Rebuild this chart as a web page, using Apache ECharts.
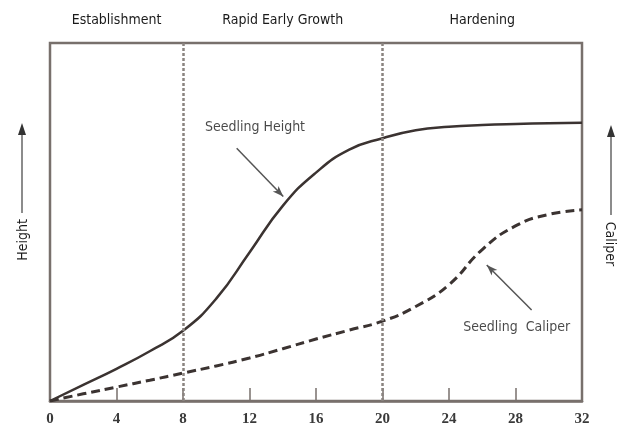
<!DOCTYPE html>
<html>
<head>
<meta charset="utf-8">
<script src="https://cdn.jsdelivr.net/npm/echarts@6/dist/echarts.min.js"></script>
<style>
html,body{margin:0;padding:0;background:#fff;}
#chart{width:618px;height:435px;}
</style>
</head>
<body>
<div id="chart"></div>
<script>
// weeks since sowing (x) and relative size (0-100, no scale shown)
var xTicks = [0, 4, 8, 12, 16, 20, 24, 28, 32];
var weeks = [0, 2, 4, 6, 8, 10, 12, 14, 16, 18, 20, 22, 24, 26, 28, 30, 32];
var heightY = [0, 4.5, 9.0, 13.9, 19.6, 28.6, 41.5, 54.5, 63.8, 70.2, 73.4, 75.6, 76.6, 77.1, 77.4, 77.6, 77.7];
var caliperY = [0, 2, 3.9, 5.8, 7.8, 9.8, 12, 14.6, 17.3, 19.8, 22.3, 26.4, 32.5, 42.3, 48.9, 52.1, 53.4];
var phaseBounds = [8, 20];
var phaseNames = ['Establishment', 'Rapid Early Growth', 'Hardening'];
var phaseCenters = [4, 14, 26];
var heightLabel = {name: 'Seedling Height', x: 12.33, y: 76.3, arrowFrom: [11.23, 70.6], arrowTo: [14.03, 57.1]};
var caliperLabel = {name: 'Seedling  Caliper', x: 28.07, y: 20.7, arrowFrom: [28.97, 25.4], arrowTo: [26.27, 38]};
var leftAxisName = 'Height';
var rightAxisName = 'Caliper';

function zip(xs, ys) { return xs.map(function (x, i) { return [x, ys[i]]; }); }

var lineColor = '#3b3331';
var frameColor = '#78706c';
var condensed = '"Liberation Sans Narrow", "DejaVu Sans Condensed", "Open Sans", sans-serif';

var chart = echarts.init(document.getElementById('chart'));
var option = {
  animation: false,
  backgroundColor: '#fff',
  grid: {left: 50, right: 36, top: 43, bottom: 34, show: true, borderColor: frameColor, borderWidth: 2.5, backgroundColor: 'transparent'},
  xAxis: [{
    type: 'value', min: 0, max: 32, interval: 4, position: 'bottom',
    axisLine: {show: true, lineStyle: {color: frameColor, width: 2.5}},
    axisTick: {show: true, inside: true, length: 13, lineStyle: {color: frameColor, width: 1.5}},
    axisLabel: {color: '#3a3a3a', fontFamily: '"Liberation Serif", "DejaVu Serif", serif', fontSize: 15, fontWeight: 'bold', margin: 11,
      formatter: function (v) { return xTicks.indexOf(v) >= 0 ? String(v) : ''; }},
    splitLine: {show: false}
  }, {
    type: 'value', min: 0, max: 32, position: 'top',
    axisLine: {show: false}, axisTick: {show: false}, splitLine: {show: false},
    axisLabel: {customValues: phaseCenters, color: '#1a1a1a', fontFamily: condensed, fontSize: 14, margin: 16,
      formatter: function (v) { return phaseNames[phaseCenters.indexOf(v)]; }}
  }],
  yAxis: {
    type: 'value', min: 0, max: 100,
    axisLine: {show: false}, axisTick: {show: false}, axisLabel: {show: false}, splitLine: {show: false}
  },
  series: [{
    name: 'Seedling Height', type: 'line', smooth: 0.5, symbol: 'none',
    data: zip(weeks, heightY),
    lineStyle: {color: lineColor, width: 2.5},
    markLine: {
      silent: true, symbol: ['none', 'none'], label: {show: false},
      lineStyle: {color: '#8a8480', width: 2.5, type: [3, 2]},
      data: phaseBounds.map(function (b) { return {xAxis: b}; })
    }
  }, {
    name: 'Seedling Caliper', type: 'line', smooth: 0.5, symbol: 'none',
    data: zip(weeks, caliperY),
    lineStyle: {color: lineColor, width: 3, type: [9, 5]},
    markLine: {
      silent: true, symbol: ['none', 'arrow'], symbolSize: [6, 11], label: {show: false},
      lineStyle: {color: '#555', width: 1.5, type: 'solid'},
      data: [
        [{coord: heightLabel.arrowFrom}, {coord: heightLabel.arrowTo}],
        [{coord: caliperLabel.arrowFrom}, {coord: caliperLabel.arrowTo}]
      ]
    }
  }, {
    type: 'scatter', symbolSize: 0, silent: true,
    data: [[heightLabel.x, heightLabel.y, heightLabel.name], [caliperLabel.x, caliperLabel.y, caliperLabel.name]],
    label: {show: true, position: 'inside', color: '#1a1a1a', fontFamily: condensed, fontSize: 14,
      formatter: function (p) { return p.data[2]; }}
  }],
  graphic: [
    {type: 'text', x: 23, y: 240, rotation: Math.PI / 2,
      style: {text: leftAxisName, fill: '#1a1a1a', font: '14px ' + condensed, align: 'center', verticalAlign: 'middle'}},
    {type: 'line', shape: {x1: 22, y1: 213, x2: 22, y2: 132}, style: {stroke: '#666', lineWidth: 1.5}},
    {type: 'polygon', shape: {points: [[22, 123], [18, 135], [26, 135]]}, style: {fill: '#333'}},
    {type: 'text', x: 610, y: 244, rotation: -Math.PI / 2,
      style: {text: rightAxisName, fill: '#1a1a1a', font: '14px ' + condensed, align: 'center', verticalAlign: 'middle'}},
    {type: 'line', shape: {x1: 611, y1: 215, x2: 611, y2: 134}, style: {stroke: '#666', lineWidth: 1.5}},
    {type: 'polygon', shape: {points: [[611, 125], [607, 137], [615, 137]]}, style: {fill: '#333'}}
  ]
};
chart.setOption(option);
</script>
</body>
</html>
